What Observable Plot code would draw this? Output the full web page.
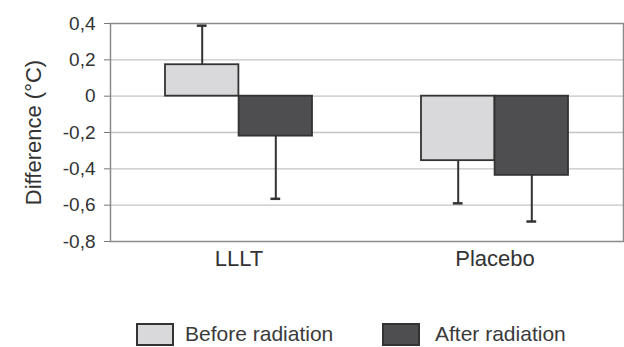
<!DOCTYPE html>
<html><head><meta charset="utf-8">
<script src="https://cdn.jsdelivr.net/npm/d3@7"></script>
<script src="https://cdn.jsdelivr.net/npm/@observablehq/plot@0.6"></script>
<style>
body{margin:0;background:#fff;font-family:"Liberation Sans",Arial,sans-serif;color:#333;}
#legend{position:relative;height:57px;width:624px;}
.item{position:absolute;top:32px;display:flex;align-items:center;font-size:21px;color:#3a3a3a;}
.box{width:34px;height:19px;border:2px solid #333;margin-right:11px;}
</style></head><body><div id="chart"></div><div id="legend"></div><script>
const groups = ["LLLT", "Placebo"];
const series = ["Before radiation", "After radiation"];
const beforeValues = [0.173, -0.355];
const afterValues = [-0.22, -0.436];
const beforeErrEnd = [0.388, -0.59];
const afterErrEnd = [-0.565, -0.69];
const yTicks = [0.4, 0.2, 0, -0.2, -0.4, -0.6, -0.8];
const yTickLabels = ["0,4", "0,2", "0", "-0,2", "-0,4", "-0,6", "-0,8"];
const yLabel = "Difference (°C)";
const colors = ["#d9d9db", "#4e4e50"];

const data = groups.map((g, i) => ({
  group: g, before: beforeValues[i], after: afterValues[i],
  beforeErr: beforeErrEnd[i], afterErr: afterErrEnd[i]
}));
const labelMap = new Map(yTicks.map((t, i) => [t, yTickLabels[i]]));

const W = 624, ML = 110, MR = 1;
const padIn = 0.426, padOut = 0.213;
const step = (W - ML - MR) / (groups.length - padIn + 2 * padOut);
const bw = step * (1 - padIn);
const half = bw / 2, q = bw / 4, cap = 5;

const chart = Plot.plot({
  width: W, height: 290,
  marginLeft: ML, marginRight: MR, marginTop: 23, marginBottom: 49,
  style: {fontFamily: "'Liberation Sans', Arial, sans-serif", color: "#333", background: "#fff"},
  x: {domain: groups, paddingInner: padIn, paddingOuter: padOut, label: null},
  y: {domain: [-0.8, 0.4], label: null},
  marks: [
    Plot.ruleY(yTicks.slice(1, -1), {stroke: "#c4c4c4", strokeWidth: 1.3}),
    Plot.frame({stroke: "#8a8a8a", strokeWidth: 1.5}),
    Plot.ruleX(data, {x: "group", y1: "before", y2: "beforeErr", dx: -q, stroke: "#333", strokeWidth: 2}),
    Plot.ruleX(data, {x: "group", y1: "after", y2: "afterErr", dx: q, stroke: "#333", strokeWidth: 2}),
    Plot.tickY(data, {x: "group", y: "beforeErr", insetLeft: q - cap, insetRight: 3 * q - cap, stroke: "#333", strokeWidth: 2.5}),
    Plot.tickY(data, {x: "group", y: "afterErr", insetLeft: 3 * q - cap, insetRight: q - cap, stroke: "#333", strokeWidth: 2.5}),
    Plot.barY(data, {x: "group", y: "before", insetRight: half, fill: colors[0], stroke: "#333", strokeWidth: 1.8}),
    Plot.barY(data, {x: "group", y: "after", insetLeft: half, fill: colors[1], stroke: "#333", strokeWidth: 1.8}),
    Plot.axisY({ticks: yTicks, tickFormat: d => labelMap.get(d), tickSize: 6, tickPadding: 9, fontSize: 19, stroke: "#777", fill: "#333", label: null}),
    Plot.axisX({tickSize: 0, tickPadding: 9, fontSize: 22, fill: "#333", label: null}),
    Plot.text([yLabel], {frameAnchor: "left", text: d => d, rotate: -90, dx: -77, fontSize: 22, fill: "#333", textAnchor: "middle", lineAnchor: "middle"})
  ]
});
document.getElementById("chart").appendChild(chart);

const lefts = [136, 382];
const legend = document.getElementById("legend");
series.forEach((s, i) => {
  const item = document.createElement("div");
  item.className = "item";
  item.style.left = lefts[i] + "px";
  const box = document.createElement("span");
  box.className = "box";
  box.style.background = colors[i];
  if (i === 1) box.style.marginRight = "15px";
  const t = document.createElement("span");
  t.textContent = s;
  item.appendChild(box); item.appendChild(t);
  legend.appendChild(item);
});
</script></body></html>
